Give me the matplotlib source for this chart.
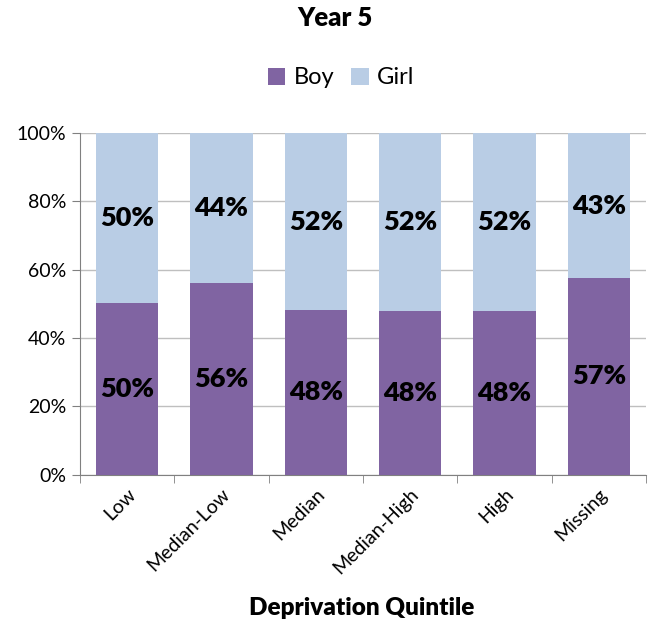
import matplotlib
matplotlib.use("Agg")
import matplotlib.pyplot as plt
import numpy as np

categories = ["Low", "Median-Low", "Median", "Median-High", "High", "Missing"]
boy = [50.1, 56.0, 48.1, 47.8, 47.8, 57.4]
girl = [49.9, 44.0, 51.9, 52.2, 52.2, 42.6]
boy_labels = ["50%", "56%", "48%", "48%", "48%", "57%"]
girl_labels = ["50%", "44%", "52%", "52%", "52%", "43%"]
yticks = [0, 20, 40, 60, 80, 100]
ytick_labels = ["0%", "20%", "40%", "60%", "80%", "100%"]

plt.rcParams['font.family'] = ['Lato', 'DejaVu Sans']

fig = plt.figure(figsize=(6.51, 6.28), dpi=100)
ax = fig.add_axes([80/651, 1-474.5/628, 566/651, (474.5-133)/628])

x = np.arange(len(categories))
w = 0.664
boy_c = "#8064A2"
girl_c = "#B9CDE5"
b1 = ax.bar(x, boy, w, color=boy_c, label="Boy", zorder=3)
b2 = ax.bar(x, girl, w, bottom=boy, color=girl_c, label="Girl", zorder=3)

for i in range(len(categories)):
    ax.text(x[i], boy[i]/2, boy_labels[i], ha="center", va="center",
            fontsize=19.5, fontweight="heavy", color="black", zorder=4)
    ax.text(x[i], boy[i] + girl[i]/2, girl_labels[i], ha="center", va="center",
            fontsize=19.5, fontweight="heavy", color="black", zorder=4)

ax.set_xlim(-0.5, len(categories) - 0.5)
ax.set_ylim(0, 100)
ax.set_yticks(yticks)
ax.set_yticklabels(ytick_labels, fontsize=14)
ax.grid(axis="y", color="#BFBFBF", linewidth=1, zorder=0)
ax.set_xticks(x)
ax.set_xticklabels(categories, rotation=45, ha="right", rotation_mode="anchor", fontsize=14)
ax.tick_params(axis="x", length=0, pad=8)
ax.set_xticks(np.arange(len(categories) + 1) - 0.5, minor=True)
ax.tick_params(axis="x", which="minor", length=6, color="#808080")
ax.tick_params(axis="y", length=6, color="#808080", pad=4)
for s in ["top", "right"]:
    ax.spines[s].set_visible(False)
ax.spines["left"].set_color("#808080")
ax.spines["bottom"].set_color("#808080")

fig.text(362/651, 1-608/628, "Deprivation Quintile", ha="center", va="center",
         fontsize=17.5, fontweight="heavy")
fig.text(335/651, 1-18/628, "Year 5", ha="center", va="center", fontsize=18.5, fontweight="heavy")
fig.legend(handles=[b1, b2], loc="center", bbox_to_anchor=(341/651, 1-78/628), ncol=2,
           frameon=False, fontsize=17, handlelength=0.75, handleheight=0.75,
           columnspacing=0.7, handletextpad=0.35)

fig.savefig("out.png", dpi=100)
